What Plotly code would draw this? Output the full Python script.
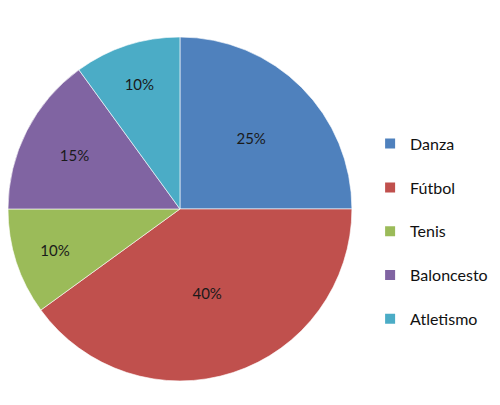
import plotly.graph_objects as go

labels = ["Danza", "Fútbol", "Tenis", "Baloncesto", "Atletismo"]
values = [25, 40, 10, 15, 10]
colors = ["#4F81BD", "#C0504D", "#9BBB59", "#8064A2", "#4BACC6"]

FONT = "Lato, Open Sans, sans-serif"

fig = go.Figure()
fig.add_trace(go.Pie(
    labels=labels, values=values, sort=False, direction="clockwise", rotation=0,
    marker=dict(colors=colors, line=dict(color="rgba(255,255,255,0.6)", width=1)),
    textinfo="percent", textposition="inside", insidetextorientation="horizontal",
    textfont=dict(family=FONT, size=15, color="#1a1a1a"),
    showlegend=False, hoverinfo="label+percent",
    domain=dict(x=[0.0, 0.699], y=[0.0605, 0.927]),
))
for lab, col in zip(labels, colors):
    fig.add_trace(go.Scatter(
        x=[None], y=[None], mode="markers", name=lab,
        marker=dict(symbol="square", size=10, color=col),
        legendgroup=lab, showlegend=True,
    ))

fig.update_layout(
    width=492, height=397,
    margin=dict(l=0, r=0, t=0, b=0),
    paper_bgcolor="white", plot_bgcolor="white",
    xaxis=dict(visible=False), yaxis=dict(visible=False),
    legend=dict(x=0.736, y=0.701, xanchor="left", yanchor="top",
                font=dict(family=FONT, size=16, color="#111111"),
                tracegroupgap=20, itemclick=False, itemdoubleclick=False),
)
fig.write_html("out.html")
